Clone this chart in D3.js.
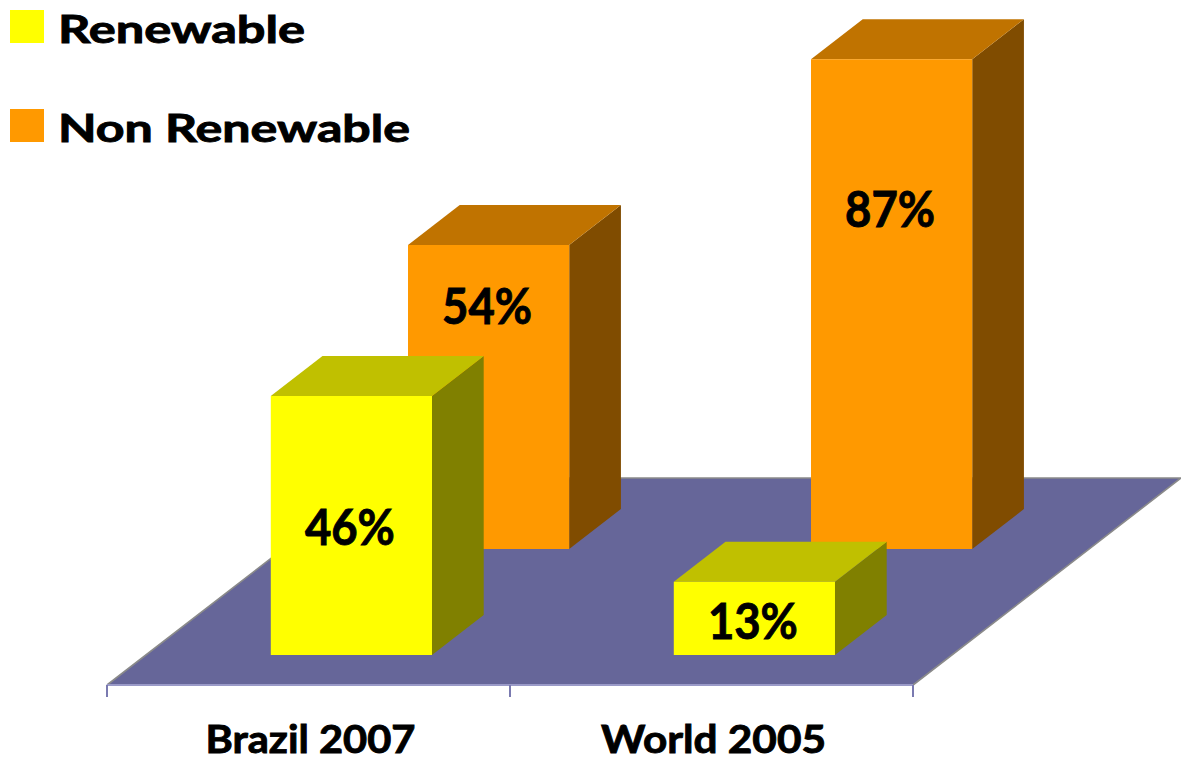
<!DOCTYPE html>
<html>
<head>
<meta charset="utf-8">
<script src="https://cdn.jsdelivr.net/npm/d3@7"></script>
<style>
  html, body { margin: 0; padding: 0; background: #ffffff; }
  svg { display: block; font-family: Lato, "Open Sans", sans-serif; font-weight: bold; }
  text { stroke: #000; stroke-width: 0.9px; paint-order: stroke; }
</style>
</head>
<body>
<svg id="chart" width="1181" height="764"></svg>
<script>
// Share of energy supply, renewable vs non renewable (%)
const categories = ["Brazil 2007", "World 2005"];
const seriesNames = ["Renewable", "Non Renewable"];
const renewable = [46, 13];
const nonRenewable = [54, 87];

// Where each value label sits down the front face (fraction of the bar height)
const renewableLabelAt = [0.575, 0.78];
const nonRenewableLabelAt = [0.26, 0.342];

const palette = {
  "Renewable":     { front: "#ffff00", top: "#c0c000", side: "#808000" },
  "Non Renewable": { front: "#ff9900", top: "#c07300", side: "#804c00" }
};

const svg = d3.select("#chart");

// Oblique 3D projection: x along the category axis, f = depth across the floor (0..1), h = height in px
const baseY = 685, depthDX = 268, depthDY = 207;
const proj = (x, f, h) => [x + f * depthDX, baseY - f * depthDY - h];

const xBand = d3.scaleBand().domain(categories).range([107, 913]);
const yScale = d3.scaleLinear().domain([0, 100]).range([0, 563]);

// Each series occupies a row at a given depth on the floor
const rows = [
  { name: "Renewable", values: renewable, labelAt: renewableLabelAt, f0: 0.145 },
  { name: "Non Renewable", values: nonRenewable, labelAt: nonRenewableLabelAt, f0: 0.657 }
];
const rowDepth = 0.193;

// Floor
const floorPts = [proj(107, 0, 0), proj(913, 0, 0), proj(913, 1, 0), proj(107, 1, 0)];
svg.append("polygon")
  .attr("points", floorPts.map(p => p.join(",")).join(" "))
  .attr("fill", "#666699");
svg.append("polyline")
  .attr("points", [floorPts[0], floorPts[3], floorPts[2], floorPts[1]].map(p => p.join(",")).join(" "))
  .attr("fill", "none")
  .attr("stroke", "#8a8a8a")
  .attr("stroke-width", 1.6);

// Category axis along the front edge of the floor
const axisG = svg.append("g").attr("transform", `translate(0,${baseY})`);
axisG.append("line")
  .attr("x1", 107).attr("x2", 913)
  .attr("stroke", "#9a9ac8").attr("stroke-width", 2);
const tickXs = categories.map(c => xBand(c)).concat([xBand.range()[1]]);
axisG.selectAll("line.tick").data(tickXs).enter().append("line")
  .attr("class", "tick")
  .attr("x1", d => d).attr("x2", d => d)
  .attr("y1", 0).attr("y2", 12)
  .attr("stroke", "#7a7ab0").attr("stroke-width", 2);

const axisLabelWidths = { "Brazil 2007": 210, "World 2005": 225 };
svg.selectAll("text.cat").data(categories).enter().append("text")
  .attr("class", "cat")
  .attr("x", d => xBand(d) + xBand.bandwidth() / 2 + 2)
  .attr("y", 753)
  .attr("text-anchor", "middle")
  .attr("font-size", 39)
  .attr("textLength", d => axisLabelWidths[d])
  .attr("lengthAdjust", "spacingAndGlyphs")
  .attr("fill", "#000")
  .text(d => d);

// Bars: back row first, then the front row
const barG = svg.append("g");
const barOffset = 0.31, barFrac = 0.4;
[...rows].reverse().forEach(row => {
  const col = palette[row.name];
  categories.forEach((cat, i) => {
    const v = row.values[i];
    const h = yScale(v);
    const x0 = xBand(cat) + xBand.bandwidth() * barOffset;
    const x1 = x0 + xBand.bandwidth() * barFrac;
    const f0 = row.f0, f1 = row.f0 + rowDepth;
    const g = barG.append("g");
    const poly = (pts, fill) => g.append("polygon")
      .attr("points", pts.map(p => p.join(",")).join(" "))
      .attr("fill", fill);
    // right side
    poly([proj(x1, f0, 0), proj(x1, f1, 0), proj(x1, f1, h), proj(x1, f0, h)], col.side);
    // top
    poly([proj(x0, f0, h), proj(x1, f0, h), proj(x1, f1, h), proj(x0, f1, h)], col.top);
    // front
    poly([proj(x0, f0, 0), proj(x1, f0, 0), proj(x1, f0, h), proj(x0, f0, h)], col.front);
    // value label
    const pTop = proj((x0 + x1) / 2, f0, h);
    g.append("text")
      .attr("x", pTop[0] - 1.5)
      .attr("y", pTop[1] + h * row.labelAt[i])
      .attr("text-anchor", "middle")
      .attr("font-size", 49)
      .attr("textLength", 90)
      .attr("lengthAdjust", "spacingAndGlyphs")
      .attr("fill", "#000")
      .text(v + "%");
  });
});

// Legend
const legendWidths = { "Renewable": 247, "Non Renewable": 352 };
const legend = svg.append("g");
seriesNames.forEach((name, i) => {
  const y = 10 + i * 99;
  legend.append("rect")
    .attr("x", 10).attr("y", y)
    .attr("width", 34).attr("height", 33)
    .attr("fill", palette[name].front);
  legend.append("text")
    .attr("x", 58).attr("y", y + 33)
    .attr("font-size", 38)
    .attr("textLength", legendWidths[name])
    .attr("lengthAdjust", "spacingAndGlyphs")
    .attr("fill", "#000")
    .text(name);
});
</script>
</body>
</html>
